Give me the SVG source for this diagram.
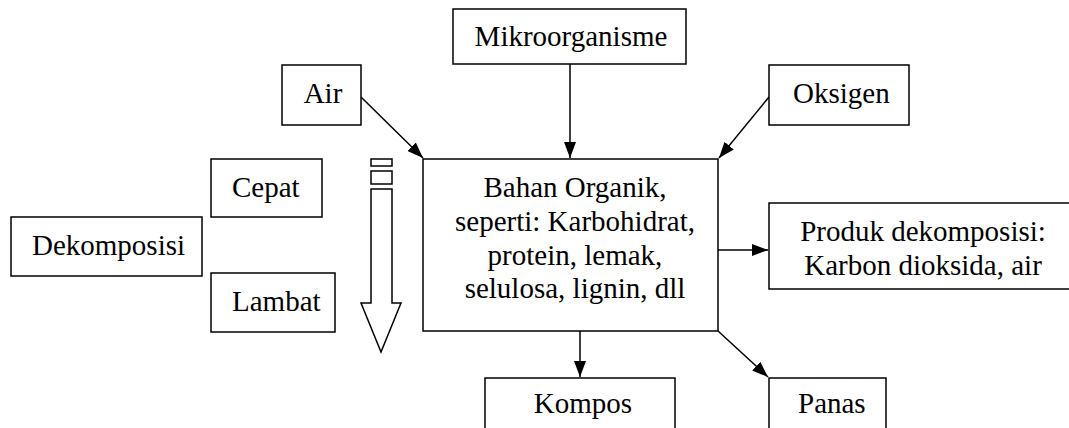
<svg xmlns="http://www.w3.org/2000/svg" width="1069" height="428" viewBox="0 0 1069 428">
<style>
.box{fill:#fff;stroke:#000;stroke-width:1.5}
.t{font-family:"Liberation Serif","Times New Roman",serif;font-size:29px;fill:#000}
.c{text-anchor:middle}
.ln{stroke:#000;stroke-width:1.5;fill:none;marker-end:url(#ah)}
</style>
<defs>
<marker id="ah" markerUnits="userSpaceOnUse" markerWidth="16" markerHeight="12" refX="16" refY="6" orient="auto">
<path d="M0,0 L16,6 L0,12 Z" fill="#000"/>
</marker>
</defs>
<rect width="1069" height="428" fill="#fff"/>
<g id="connectors">
<line class="ln" x1="361" y1="97" x2="423" y2="158"/>
<line class="ln" x1="570" y1="64" x2="570" y2="158"/>
<line class="ln" x1="769" y1="97" x2="719" y2="158"/>
<line class="ln" x1="718" y1="250" x2="768" y2="250"/>
<line class="ln" x1="580" y1="331" x2="580" y2="377"/>
<line class="ln" x1="718" y1="331" x2="768" y2="377"/>
</g>
<g id="mikroorganisme"><rect class="box" x="453" y="9" width="233" height="55"/><text class="t c" x="571" y="46">Mikroorganisme</text></g>
<g id="air"><rect class="box" x="282" y="65" width="79" height="60"/><text class="t c" x="323" y="103">Air</text></g>
<g id="oksigen"><rect class="box" x="769" y="65" width="140" height="60"/><text class="t" x="793" y="103">Oksigen</text></g>
<g id="bahan"><rect class="box" x="423" y="159" width="295" height="172"/>
<text class="t c" x="575" y="197">Bahan Organik,</text>
<text class="t c" x="575" y="231">seperti: Karbohidrat,</text>
<text class="t c" x="575" y="265">protein, lemak,</text>
<text class="t c" x="575" y="298">selulosa, lignin, dll</text></g>
<g id="produk"><rect class="box" x="769" y="203" width="310" height="86"/>
<text class="t c" x="923" y="241">Produk dekomposisi:</text>
<text class="t c" x="923" y="275">Karbon dioksida, air</text></g>
<g id="cepat"><rect class="box" x="211" y="159" width="111" height="58"/><text class="t" x="232" y="197">Cepat</text></g>
<g id="dekomposisi"><rect class="box" x="11" y="217" width="191" height="59"/><text class="t" x="32" y="255">Dekomposisi</text></g>
<g id="lambat"><rect class="box" x="211" y="273" width="124" height="59"/><text class="t" x="232" y="311">Lambat</text></g>
<g id="block-arrow" fill="#fff" stroke="#000" stroke-width="1.5">
<rect x="371" y="159" width="21" height="7"/>
<rect x="371" y="171" width="21" height="13"/>
<polygon points="371,189 392,189 392,303 401,303 381,352 361,303 371,303"/>
</g>
<g id="kompos"><rect class="box" x="485" y="378" width="190" height="70"/><text class="t c" x="583" y="413">Kompos</text></g>
<g id="panas"><rect class="box" x="769" y="378" width="117" height="70"/><text class="t" x="798" y="413">Panas</text></g>
</svg>
